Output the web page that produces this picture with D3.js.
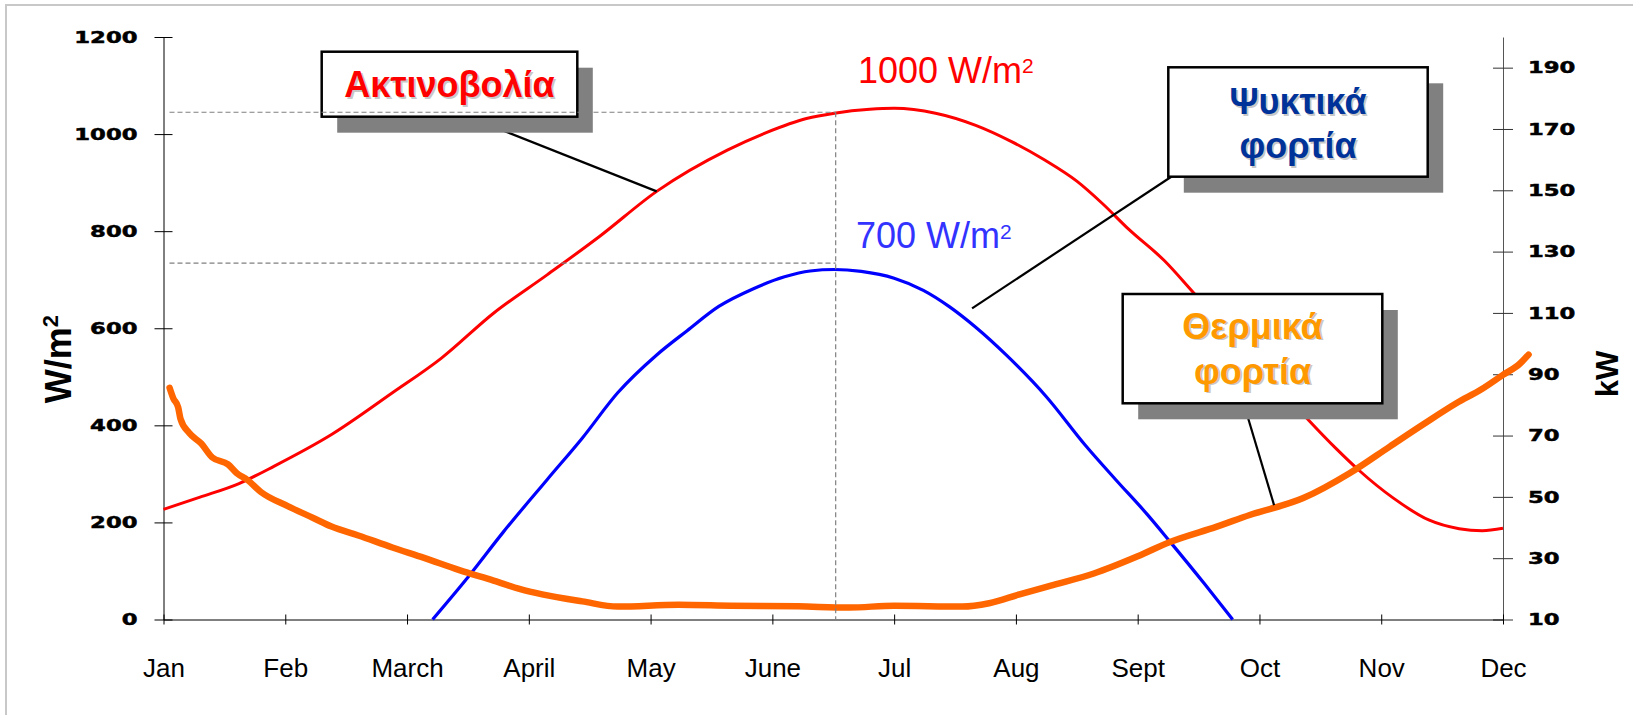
<!DOCTYPE html>
<html>
<head>
<meta charset="utf-8">
<script src="https://cdn.jsdelivr.net/npm/d3@7"></script>
<style>
  html, body { margin: 0; padding: 0; background: #fff; }
  svg { display: block; }
</style>
</head>
<body>
<svg id="chart" width="1633" height="715"></svg>
<script>
// ---------- data ----------
const months = ["Jan","Feb","March","April","May","June","Jul","Aug","Sept","Oct","Nov","Dec"];
const leftTicks = [0, 200, 400, 600, 800, 1000, 1200];
const rightTicks = [10, 30, 50, 70, 90, 110, 130, 150, 170, 190];

// Solar radiation (W/m2), month index position
const radMonth = [0, 0.30, 0.62, 0.91, 1.38, 1.88, 2.28, 2.71, 3.15, 3.58, 4.05, 4.63, 4.95, 5.28, 5.51, 5.8, 6.0, 6.34, 6.67, 6.96, 7.24, 7.50, 7.71, 7.93, 8.22, 8.47, 8.75, 9.0, 9.2, 9.41, 9.63, 9.81, 10.10, 10.39, 10.64, 10.83, 11.0];
const radValue = [227, 252, 280, 316, 381, 467, 538, 631, 710, 789, 882, 967, 1003, 1032, 1043, 1051, 1053, 1043, 1018, 985, 946, 903, 857, 803, 739, 670, 594, 524, 467, 409, 352, 309, 250, 205, 187, 183, 188];

// Cooling loads curve (W/m2)
const coolMonth = [2.21, 2.50, 2.79, 3.15, 3.44, 3.73, 4.05, 4.30, 4.56, 4.84, 5.10, 5.31, 5.51, 5.73, 6.0, 6.24, 6.45, 6.67, 6.92, 7.25, 7.57, 7.82, 8.08, 8.26, 8.55, 8.78];
const coolValue = [0, 87, 180, 288, 374, 467, 545, 595, 645, 681, 706, 718, 721, 717, 703, 678, 645, 602, 545, 459, 359, 288, 216, 162, 73, 0];

// Heating loads (kW, right axis)
const heatMonth = [0.05, 0.08, 0.12, 0.14, 0.21, 0.31, 0.40, 0.53, 0.60, 0.69, 0.80, 1.02, 1.23, 1.38, 1.60, 1.88, 2.14, 2.43, 2.71, 2.93, 3.11, 3.44, 3.73, 4.23, 4.66, 5.21, 5.63, 6.0, 6.56, 6.78, 7.03, 7.28, 7.64, 8.0, 8.26, 8.65, 8.92, 9.36, 9.74, 10.07, 10.34, 10.62, 10.82, 11.0, 11.14, 11.21];
const heatKW    = [85.6, 82.2, 79.3, 75.4, 70.9, 67.4, 62.9, 60.6, 57.8, 55.5, 51.6, 47.0, 43.1, 40.3, 37.4, 33.5, 30.1, 26.1, 22.7, 19.9, 18.2, 15.9, 14.2, 14.8, 14.5, 14.3, 13.9, 14.5, 14.2, 15.3, 18.2, 21.0, 25.0, 30.6, 35.2, 40.3, 44.1, 49.6, 57.7, 66.4, 73.5, 80.6, 85.0, 89.8, 93.5, 96.4];

// reference (dashed) levels
const refLevels = [1045, 734];
const refMonth = 5.52;

// annotation anchors on curves (month, value)
const radAnchor = [4.05, 882];
const coolAnchor = [6.64, 641];
const heatAnchor = [9.12, 47.3];

// ---------- scales ----------
const svg = d3.select("#chart");
const x = d3.scaleLinear().domain([0, 11]).range([163.5, 1503]);
const yL = d3.scaleLinear().domain([0, 1200]).range([619.5, 37]);
const yR = d3.scaleLinear().domain([10, 200]).range([619.5, 37]);

// outer frame
svg.append("rect").attr("x", 6).attr("y", 5).attr("width", 1660).attr("height", 740)
  .attr("fill", "none").attr("stroke", "#c8c8c8").attr("stroke-width", 2);

// ---------- axes ----------
const numFmt = d3.format("d");
function styleNums(g) {
  g.selectAll(".tick text")
    .attr("font-family", "DejaVu Sans").attr("font-weight", "bold").attr("font-size", 16.5)
    .attr("fill", "#000").attr("stroke", "#000").attr("stroke-width", 0.5)
    .attr("textLength", d => numFmt(d).length * 15.8).attr("lengthAdjust", "spacingAndGlyphs");
}

const gL = svg.append("g").attr("transform", `translate(${x(0)},0)`)
  .call(d3.axisLeft(yL).tickValues(leftTicks).tickFormat(numFmt).tickSize(9).tickSizeOuter(0).tickPadding(17));
gL.selectAll(".tick line").attr("x1", 9).attr("stroke", "#000");
gL.select(".domain").attr("stroke", "#000");
styleNums(gL);

const gR = svg.append("g").attr("transform", `translate(${x(11)},0)`)
  .call(d3.axisRight(yR).tickValues(rightTicks).tickFormat(numFmt).tickSize(10).tickSizeOuter(0).tickPadding(15));
gR.selectAll(".tick line").attr("x1", -10).attr("stroke", "#333");
gR.select(".domain").attr("stroke", "#555");
styleNums(gR);

const gB = svg.append("g").attr("transform", `translate(0,${yL(0)})`)
  .call(d3.axisBottom(x).tickValues(d3.range(12)).tickFormat(i => months[i])
    .tickSize(5).tickSizeOuter(0).tickPadding(34));
gB.selectAll(".tick line").attr("y1", -5).attr("stroke", "#000");
gB.select(".domain").attr("stroke", "#000");
gB.selectAll(".tick text")
  .attr("font-family", "Liberation Sans").attr("font-size", 26).attr("fill", "#000");

// axis titles
const yt = svg.append("text").attr("transform", "translate(71,359) rotate(-90)")
  .attr("text-anchor", "middle").attr("font-family", "Liberation Sans")
  .attr("font-weight", "bold").attr("font-size", 36).attr("fill", "#000");
yt.append("tspan").text("W/m");
yt.append("tspan").attr("dy", -13).attr("font-size", 22).text("2");

svg.append("text").attr("transform", "translate(1618,374) rotate(-90)")
  .attr("text-anchor", "middle").attr("font-family", "Liberation Sans")
  .attr("font-weight", "bold").attr("font-size", 31).attr("fill", "#000").text("kW");

// ---------- curves ----------
const lineL = d3.line().x(d => x(d[0])).y(d => yL(d[1])).curve(d3.curveMonotoneX);
const lineR = d3.line().x(d => x(d[0])).y(d => yR(d[1])).curve(d3.curveMonotoneX);

svg.append("path").datum(radMonth.map((m, i) => [m, radValue[i]]))
  .attr("d", lineL).attr("fill", "none").attr("stroke", "#ff0000").attr("stroke-width", 3);
svg.append("path").datum(coolMonth.map((m, i) => [m, coolValue[i]]))
  .attr("d", lineL).attr("fill", "none").attr("stroke", "#0000ff").attr("stroke-width", 3.2);
svg.append("path").datum(heatMonth.map((m, i) => [m, heatKW[i]]))
  .attr("d", lineR).attr("fill", "none").attr("stroke", "#ff6600").attr("stroke-width", 6.5)
  .attr("stroke-linecap", "round").attr("stroke-linejoin", "round");

// ---------- annotations ----------
function leader(x1, y1, pt) {
  svg.append("line").attr("x1", x1).attr("y1", y1).attr("x2", pt[0]).attr("y2", pt[1])
    .attr("stroke", "#000").attr("stroke-width", 2.2);
}
leader(451, 110, [x(radAnchor[0]), yL(radAnchor[1])]);
leader(1180, 171, [x(coolAnchor[0]), yL(coolAnchor[1])]);
leader(1239.7, 390, [x(heatAnchor[0]), yR(heatAnchor[1])]);

function callout(bx, by, bw, bh, lines, color, baselines, size) {
  svg.append("rect").attr("x", bx + 15.5).attr("y", by + 16).attr("width", bw).attr("height", bh)
    .attr("fill", "#808080");
  svg.append("rect").attr("x", bx).attr("y", by).attr("width", bw).attr("height", bh)
    .attr("fill", "#fff").attr("stroke", "#000").attr("stroke-width", 2.5);
  lines.forEach((t, i) => {
    svg.append("text").attr("x", bx + bw / 2 + 1.8).attr("y", by + baselines[i] + 1.8)
      .attr("text-anchor", "middle").attr("font-family", "Liberation Sans").attr("font-weight", "bold")
      .attr("font-size", size).attr("fill", "#c8c8c8").text(t);
    svg.append("text").attr("x", bx + bw / 2).attr("y", by + baselines[i])
      .attr("text-anchor", "middle").attr("font-family", "Liberation Sans").attr("font-weight", "bold")
      .attr("font-size", size).attr("fill", color).text(t);
  });
}
callout(321.7, 51.7, 255.6, 65, ["Ακτινοβολία"], "#ff0000", [45], 36);
callout(1168.3, 67.3, 259.4, 109.4, ["Ψυκτικά", "φορτία"], "#003399", [46.5, 91], 36);
callout(1122.7, 294, 259.6, 109.3, ["Θερμικά", "φορτία"], "#ff9900", [44.5, 89.5], 36);

// dashed reference lines (drawn over boxes)
refLevels.forEach(v => {
  svg.append("line").attr("x1", x(0) + 6).attr("x2", x(refMonth)).attr("y1", yL(v)).attr("y2", yL(v))
    .attr("stroke", "#808080").attr("stroke-width", 1.2).attr("stroke-dasharray", "5,3");
});
svg.append("line").attr("x1", x(refMonth)).attr("x2", x(refMonth))
  .attr("y1", yL(refLevels[0])).attr("y2", yL(0))
  .attr("stroke", "#808080").attr("stroke-width", 1.2).attr("stroke-dasharray", "5,3");

// value labels
function valueLabel(tx, ty, main, color) {
  const t = svg.append("text").attr("x", tx).attr("y", ty).attr("font-family", "Liberation Sans")
    .attr("font-size", 36).attr("fill", color);
  t.append("tspan").text(main);
  t.append("tspan").attr("dy", -9.5).attr("font-size", 21).text("2");
}
valueLabel(858, 82.7, "1000 W/m", "#ff0000");
valueLabel(856, 248.3, "700 W/m", "#3333ff");
</script>
</body>
</html>
